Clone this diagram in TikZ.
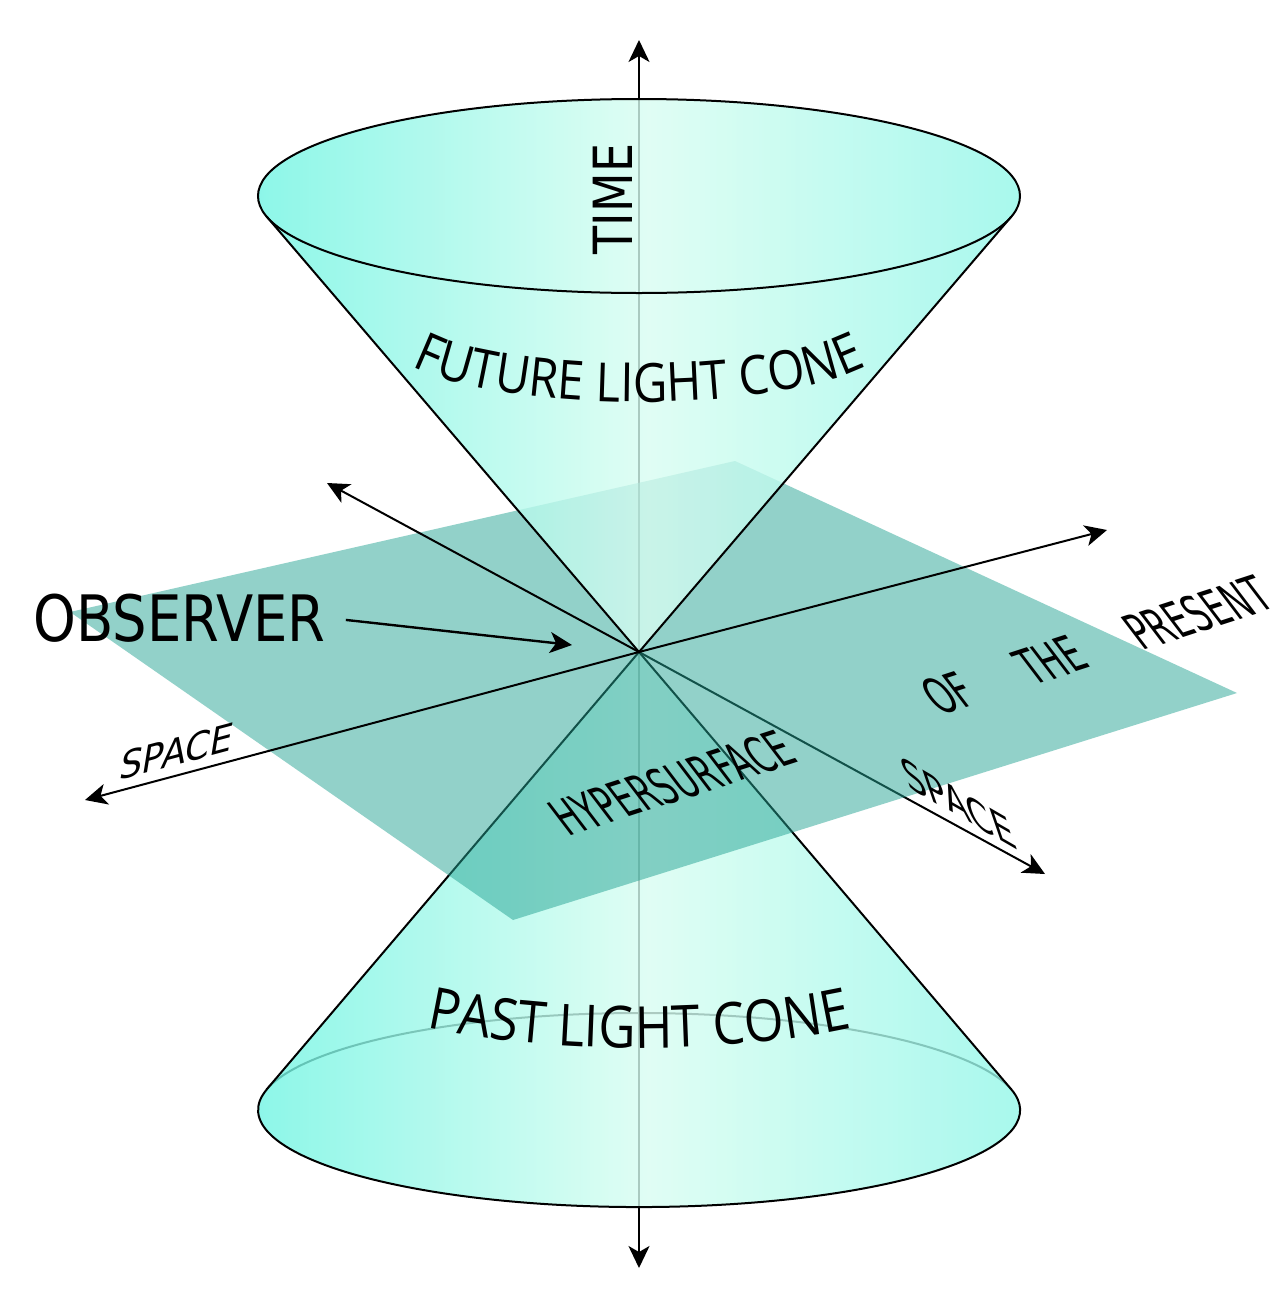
\documentclass[tikz,border=0pt]{standalone}
\usepackage{fontspec}
\setmainfont{DejaVu Sans}
\newfontfamily\conefont[FakeStretch=0.88]{Open Sans}
\usetikzlibrary{arrows.meta,decorations.text}
\definecolor{coneedge}{RGB}{108,244,226}
\definecolor{coneright}{RGB}{140,246,232}
\definecolor{conemid}{RGB}{216,253,241}
\definecolor{planeteal}{RGB}{37,163,147}
\begin{document}
\begin{tikzpicture}[x=0.5pt,y=-0.5pt,
    arr/.style={-{Stealth[length=11pt,width=10.5pt,inset=3pt]},line width=1pt},
    arrs/.style={{Stealth[length=11pt,width=10.5pt,inset=3pt]}-{Stealth[length=11pt,width=10.5pt,inset=3pt]},line width=1pt},
    conefill/.style={left color=coneedge,right color=coneright,middle color=conemid,fill opacity=0.8},
    coneline/.style={line width=1pt},
    planetext/.style={inner sep=0pt,anchor=base west,rotate=18,xslant=-0.35,xscale=0.6,font=\fontsize{26}{26}\selectfont}]
    \useasboundingbox (0,0) rectangle (1280,1307);
    \coordinate (o) at (639,652);
    \coordinate (ttop) at (639,40);
    \coordinate (tbot) at (639,1268);
    \coordinate (fc) at (639,196);
    \coordinate (ftl) at (266.7,216.6);
    \coordinate (ftr) at (1011.3,216.6);
    \coordinate (pc) at (639,1110);
    \coordinate (ptl) at (266.6,1089.5);
    \coordinate (ptr) at (1011.4,1089.5);
    \coordinate (ul) at (327,483);
    \coordinate (ur) at (1107,530);
    \coordinate (dl) at (85,800);
    \coordinate (dr) at (1045,874);
    \coordinate (obs) at (572,645);
    \coordinate (futc) at (639,340);
    \coordinate (pastc) at (639,962);
    \draw [arrs] (tbot) -- (ttop);
    % past light cone
    \draw [coneline] (ptl) arc[start angle=192.23,end angle=347.77,x radius=381,y radius=97];
    \path [conefill] (o) -- (ptr) arc[start angle=-12.23,end angle=192.23,x radius=381,y radius=97] -- cycle;
    \draw [coneline] (ptl) -- (o) -- (ptr) arc[start angle=-12.23,end angle=192.23,x radius=381,y radius=97];
    \draw [arr] (o) -- (dr);
    % hypersurface
    \fill [planeteal,fill opacity=0.5] (735,461) -- (1237,693) -- (513,920) -- (70,612) -- cycle;
    % future light cone
    \path [conefill] (o) -- (ftr) arc[start angle=12.28,end angle=-192.28,x radius=381,y radius=97] -- cycle;
    \draw [coneline] (fc) ellipse[x radius=381,y radius=97];
    \draw [coneline] (ftl) -- (o) -- (ftr);
    \draw [arr] (o) -- (ul);
    \draw [arr] (o) -- (ur);
    \draw [arr] (o) -- (dl);
    \node [inner sep=0pt,anchor=base west,xscale=0.85,font=\fontsize{32}{32}\selectfont] (observer) at (33,641) {OBSERVER};
    \draw [arr,line width=1.2pt,shorten <=10pt] (observer.east) -- (obs);
    \node [inner sep=0pt,anchor=base,rotate=90,xscale=0.85,font=\fontsize{27}{27}\selectfont] (time) at (632,199) {TIME};
    \node [planetext] (hyper) at (568,837) {HYPERSURFACE};
    \node [planetext] (of) at (940,716) {OF};
    \node [planetext] (the) at (1033,686) {THE};
    \node [planetext] (present) at (1142,651) {PRESENT};
    \node [inner sep=0pt,anchor=base west,rotate=15,xslant=0.45,xscale=1.02,font=\fontsize{18}{18}\selectfont] (spaceleft) at (118,781) {SPACE};
    \node [inner sep=0pt,anchor=base west,rotate=-30,xslant=-1.15,xscale=1.3,font=\fontsize{15.5}{15.5}\selectfont] (spaceright) at (908,787) {SPACE};
    \path [decorate,decoration={text along path,text align=center,text={|\conefont\fontsize{27}{27}\selectfont|FUTURE LIGHT CONE}}] (futc) ++(158:250 and 62) arc[start angle=158,end angle=22,x radius=250,y radius=62];
    \path [decorate,decoration={text along path,text align=center,text={|\conefont\fontsize{29}{29}\selectfont|PAST LIGHT CONE}}] (pastc) ++(140:330 and 86) arc[start angle=140,end angle=40,x radius=330,y radius=86];
  \end{tikzpicture}
\end{document}
